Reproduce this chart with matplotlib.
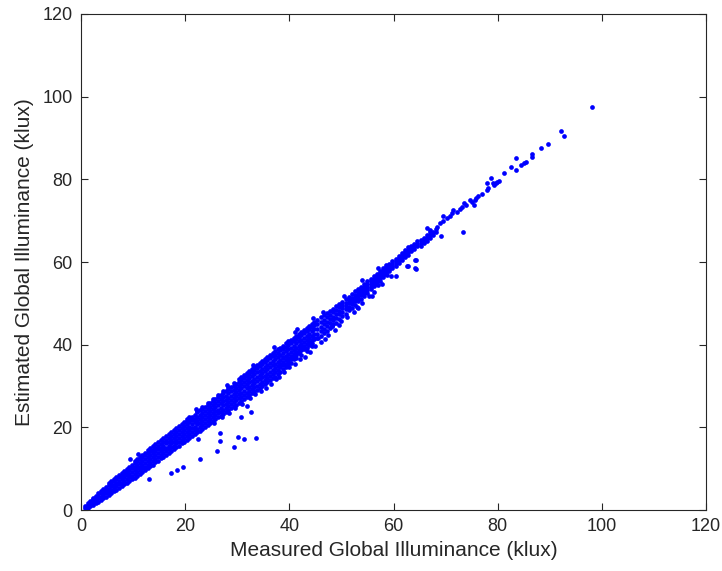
import matplotlib
matplotlib.use("Agg")
import matplotlib.pyplot as plt

# ---- data (klux) ----
# dense band: column x positions and the y values seen in each column
band_a_x = [0.8, 1.3, 1.8, 2.3, 2.8, 3.3, 3.8, 4.3, 4.8, 5.3, 5.8, 6.3, 6.8, 7.3, 7.8,
            8.3, 8.8, 9.3, 9.8, 10.3, 10.8, 11.3, 11.8, 12.3, 12.8, 13.3, 13.8, 14.3, 14.8]
band_a_y = [[0.4, 1.0], [0.6, 1.3, 1.8], [0.9, 1.6, 2.3], [1.3, 2.0, 2.7, 3.0],
            [1.7, 2.4, 3.1, 3.5], [2.0, 2.8, 3.5, 4.1], [2.4, 3.2, 4.0, 4.6],
            [2.8, 3.6, 4.4, 5.1], [3.2, 4.0, 4.8, 5.6], [3.6, 4.4, 5.2, 6.0, 6.5],
            [4.0, 4.8, 5.7, 6.5, 7.0], [4.5, 5.3, 6.1, 6.9, 7.5], [4.9, 5.7, 6.6, 7.4, 8.1],
            [5.4, 6.2, 7.0, 7.9, 8.5], [5.8, 6.6, 7.5, 8.3, 9.0], [6.2, 7.1, 7.9, 8.8, 9.5],
            [6.6, 7.5, 8.4, 9.2, 10.0], [7.0, 7.9, 8.8, 9.7, 10.5], [7.4, 8.3, 9.3, 10.2, 11.0],
            [7.8, 8.7, 9.6, 10.5, 11.3, 11.9], [8.3, 9.2, 10.1, 11.0, 11.8, 12.3],
            [8.8, 9.6, 10.5, 11.4, 12.3, 12.9], [9.2, 10.1, 11.0, 11.9, 12.8, 13.3],
            [9.7, 10.5, 11.4, 12.3, 13.2, 13.9], [10.1, 11.0, 11.9, 12.8, 13.7, 14.4],
            [10.6, 11.4, 12.3, 13.3, 14.2, 14.9], [11.0, 11.9, 12.8, 13.7, 14.6, 15.4],
            [11.5, 12.4, 13.3, 14.2, 15.1, 15.9], [11.9, 12.8, 13.7, 14.7, 15.6, 16.4]]

band_b_x = [15.3, 15.8, 16.3, 16.8, 17.3, 17.8, 18.3, 18.8, 19.3, 19.8, 20.3, 20.8, 21.3, 21.8,
            22.3, 22.8, 23.3, 23.8, 24.3, 24.8, 25.3, 25.8, 26.3, 26.8, 27.3, 27.8, 28.3, 28.8,
            29.3, 29.8]
band_b_y = [[12.5, 13.3, 14.2, 15.1, 16.0, 16.9], [12.9, 13.8, 14.7, 15.6, 16.5, 17.4],
            [13.4, 14.2, 15.1, 16.1, 17.0, 17.9], [13.8, 14.7, 15.6, 16.5, 17.5, 18.4],
            [14.3, 15.2, 16.1, 17.0, 17.9, 18.9], [14.7, 15.6, 16.5, 17.5, 18.4, 19.4],
            [15.2, 16.1, 17.0, 17.9, 18.9, 19.9], [15.6, 16.5, 17.5, 18.4, 19.3, 20.3],
            [16.1, 17.0, 17.9, 18.9, 19.8, 20.8], [16.5, 17.4, 18.4, 19.3, 20.3, 21.3],
            [17.0, 17.9, 18.9, 19.8, 20.7, 21.6, 22.1], [17.4, 18.4, 19.3, 20.2, 21.2, 22.1, 22.6],
            [17.9, 18.8, 19.8, 20.7, 21.7, 22.6], [18.3, 19.3, 20.2, 21.2, 22.1, 23.1],
            [18.8, 19.7, 20.7, 21.6, 22.6, 23.6, 24.0], [19.2, 20.2, 21.1, 22.1, 23.1, 24.1],
            [19.7, 20.6, 21.6, 22.6, 23.5, 24.5, 25.0], [20.1, 21.1, 22.0, 23.0, 24.0, 25.0],
            [20.6, 21.5, 22.5, 23.5, 24.5, 25.5, 26.0], [21.0, 22.0, 23.0, 24.0, 24.9, 25.9],
            [21.5, 22.5, 23.4, 24.4, 25.4, 26.4, 26.9], [21.9, 22.9, 23.9, 24.9, 25.9, 26.9],
            [22.4, 23.4, 24.3, 25.3, 26.3, 27.3, 27.9], [22.8, 23.8, 24.8, 25.8, 26.8, 27.8],
            [23.3, 24.3, 25.3, 26.3, 27.3, 28.3, 28.8], [23.7, 24.7, 25.7, 26.7, 27.7, 28.8],
            [24.2, 25.2, 26.2, 27.2, 28.2, 29.2, 29.8], [24.6, 25.6, 26.6, 27.7, 28.7, 29.7],
            [25.1, 26.1, 27.1, 28.1, 29.1, 30.1, 30.8], [25.5, 26.5, 27.6, 28.6, 29.6, 30.6]]

band_c_x = [30.3, 30.8, 31.3, 31.8, 32.3, 32.8, 33.3, 33.8, 34.3, 34.8, 35.3, 35.8, 36.3, 36.8,
            37.3, 37.8, 38.3, 38.8, 39.3, 39.8, 40.3, 40.8, 41.3, 41.8, 42.3, 42.8, 43.3, 43.8,
            44.3, 44.8]
band_c_y = [[26.0, 27.0, 28.0, 29.0, 30.0, 31.0, 31.8], [26.4, 27.4, 28.4, 29.5, 30.5, 31.5, 32.2],
            [26.9, 27.9, 28.9, 29.9, 31.0, 32.0, 32.7], [27.3, 28.3, 29.4, 30.4, 31.4, 32.5, 33.1],
            [27.8, 28.8, 29.8, 30.9, 31.9, 32.9, 33.6], [28.2, 29.2, 30.3, 31.3, 32.4, 33.4, 34.1],
            [28.7, 29.7, 30.7, 31.8, 32.8, 33.9, 34.6], [29.1, 30.1, 31.2, 32.2, 33.3, 34.3, 35.0],
            [29.6, 30.6, 31.6, 32.7, 33.7, 34.8, 35.5], [30.0, 31.0, 32.1, 33.1, 34.2, 35.3, 36.0],
            [30.5, 31.5, 32.5, 33.6, 34.7, 35.7, 36.5], [30.9, 31.9, 33.0, 34.0, 35.1, 36.2, 37.0],
            [31.4, 32.4, 33.4, 34.5, 35.6, 36.7, 37.4], [32.0, 32.8, 33.9, 35.0, 36.1, 37.2, 37.9],
            [32.3, 33.5, 34.4, 35.4, 36.5, 37.6, 38.4], [33.0, 33.9, 34.8, 35.9, 37.0, 38.1, 38.9],
            [33.4, 34.5, 35.3, 36.4, 37.5, 38.6, 39.3], [34.2, 35.0, 35.8, 36.8, 37.9, 39.0, 39.8],
            [34.5, 35.4, 36.3, 37.3, 38.4, 39.5, 40.3], [35.4, 36.0, 36.8, 37.8, 38.9, 40.0, 40.8],
            [35.6, 36.5, 37.3, 38.3, 39.3, 40.4, 41.2], [36.6, 37.0, 37.8, 38.8, 39.8, 40.9, 41.7],
            [36.8, 37.6, 38.3, 39.2, 40.3, 41.4, 42.2], [37.9, 38.2, 38.8, 39.7, 40.8, 41.9, 42.7],
            [37.6, 38.6, 39.2, 40.2, 41.2, 42.3, 43.1], [38.9, 39.3, 39.7, 40.7, 41.7, 42.8, 43.6],
            [38.4, 39.3, 40.2, 41.2, 42.2, 43.3, 44.1], [39.9, 40.6, 41.6, 42.7, 43.8, 44.5],
            [39.6, 40.5, 41.1, 42.1, 43.2, 44.2, 45.0], [41.4, 41.6, 42.6, 43.7, 44.7, 45.5]]

band_d_x = [45.4, 46.0, 46.6, 47.2, 47.8, 48.4, 49.0, 49.6, 50.2, 50.8, 51.4, 52.0, 52.6, 53.2,
            53.8, 54.4, 55.0, 55.6, 56.2, 56.8, 57.4, 58.0, 58.6, 59.2, 59.8, 60.4, 61.0, 61.6,
            62.2, 62.8, 63.4, 64.0, 64.6, 65.2, 65.8, 66.4, 67.0, 67.6, 68.2]
band_d_y = [[41.5, 42.7, 43.9, 44.9, 46.0], [42.0, 43.3, 44.3, 45.5, 46.6],
            [42.9, 43.8, 45.0, 46.0, 47.1], [43.2, 44.6, 45.6, 46.7, 47.6],
            [44.0, 45.2, 46.3, 47.2, 48.1], [44.9, 45.9, 46.8, 47.8, 48.6],
            [45.3, 46.5, 47.5, 48.3, 49.3], [46.2, 47.3, 48.1, 49.0, 49.9],
            [46.9, 47.8, 48.8, 49.6, 50.4], [47.5, 48.6, 49.3, 50.2, 51.0],
            [48.4, 49.2, 50.0, 50.8, 51.6], [48.9, 49.9, 50.6, 51.4, 52.2],
            [49.7, 50.5, 51.3, 52.0, 52.9], [50.6, 51.2, 51.9, 52.7, 53.4],
            [51.1, 51.9, 52.6, 53.3, 54.0], [51.8, 52.6, 53.2, 54.0, 54.6],
            [52.5, 53.3, 53.9, 54.6, 55.3], [53.4, 54.0, 54.6, 55.3, 56.0],
            [54.2, 54.8, 55.3, 55.9, 56.6], [54.7, 55.4, 56.0, 56.7, 57.2],
            [55.4, 56.2, 56.8, 57.3, 57.9], [56.3, 56.9, 57.4, 58.0, 58.6],
            [57.0, 57.6, 58.2, 58.7, 59.3], [57.8, 58.3, 58.9, 59.5], [58.5, 59.0, 59.6, 60.2],
            [59.0, 59.8, 60.3, 60.8], [59.8, 60.4, 60.9, 61.5], [60.4, 61.2, 61.7, 62.2],
            [61.2, 61.8, 62.4, 62.9], [61.7, 62.5, 63.0, 63.6], [62.6, 63.2, 63.8],
            [63.1, 63.8, 64.4], [63.9, 64.4, 65.0], [63.8, 64.6, 65.3], [64.5, 65.2, 65.9],
            [65.1, 65.8, 66.5], [65.9, 66.5, 67.2], [66.6, 67.3], [67.2, 68.0]]

# scattered points along the band edges
edge_x = [25.5, 27.0, 28.5, 29.5, 31.0, 32.5, 33.5, 34.5, 35.5, 36.5, 37.5, 38.0, 39.0, 40.0,
          41.0, 42.0, 43.0, 44.0, 45.0, 46.0, 46.8, 47.5, 48.8, 49.5, 51.0, 52.5, 54.0, 55.8,
          57.8, 59.5, 22.0, 28.0, 33.0, 37.0, 41.5, 44.5, 46.5, 50.5, 54.0, 57.0]
edge_y = [21.0, 22.6, 23.5, 24.6, 25.6, 27.0, 28.0, 28.9, 29.6, 30.6, 31.6, 32.3, 33.4, 34.5,
          35.4, 36.5, 37.0, 38.3, 39.6, 40.6, 41.3, 42.4, 43.5, 44.8, 46.6, 47.8, 50.0, 51.8,
          54.6, 56.5, 24.5, 30.2, 35.0, 39.5, 43.7, 46.5, 48.0, 51.8, 55.6, 58.5]

# upper tail, individual points
tail_x = [66.4, 67.0, 68.3, 68.9, 69.5, 69.5, 70.2, 70.8, 71.2,
          71.5, 72.1, 72.7, 73.1, 73.5, 74.0, 74.7, 75.0, 75.4, 75.6, 75.9, 76.3, 76.9, 77.9,
          78.1, 77.9, 78.8, 79.1, 79.2, 79.6, 79.9, 80.3, 81.2, 82.5, 83.6, 84.4, 85.1, 85.4,
          83.6, 86.5, 86.6, 88.3, 89.6, 92.1, 92.7, 98.1]
tail_y = [68.2, 67.7, 68.5, 69.4, 69.8, 71.1, 70.7, 71.1, 71.8,
          72.6, 72.2, 72.8, 73.4, 74.2, 73.8, 75.0, 74.6, 73.8, 75.0, 75.4, 76.0, 76.5, 79.0,
          77.8, 77.3, 80.3, 79.0, 78.6, 79.0, 79.4, 79.7, 81.5, 83.0, 82.3, 83.4, 83.9, 84.1,
          85.2, 86.1, 85.5, 87.5, 88.6, 91.8, 90.6, 97.6]

# points lying off the main band
out_x = [13.1, 17.2, 18.4, 19.5, 22.5, 22.9, 26.2, 26.6, 26.6, 29.4, 30.1, 30.7, 31.3, 31.9,
         32.6, 33.6, 9.4, 10.9, 38.8, 40.8, 42.0, 45.5, 48.1, 50.0, 52.0, 52.9, 55.3, 56.2,
         57.1, 60.4, 58.8, 62.7, 62.6, 64.2, 64.4, 64.2, 64.4, 69.2, 73.3, 41.1, 48.2, 53.1]
out_y = [7.4, 9.0, 9.6, 10.4, 17.2, 12.3, 14.3, 18.7, 16.7, 15.2, 17.7, 22.6, 17.1, 25.2,
         23.8, 17.5, 12.3, 13.5, 37.1, 37.1, 39.7, 41.6, 44.4, 45.8, 50.4, 49.0, 51.8, 52.7,
         54.4, 56.7, 56.8, 59.1, 59.0, 58.5, 58.4, 60.5, 60.4, 66.3, 67.2, 43.1, 44.4, 48.8]

x_ticks = [0, 20, 40, 60, 80, 100, 120]
y_ticks = [0, 20, 40, 60, 80, 100, 120]
x_label = "Measured Global Illuminance (klux)"
y_label = "Estimated Global Illuminance (klux)"

# ---- assemble ----
all_x, all_y = [], []
for bx, by in [(band_a_x, band_a_y), (band_b_x, band_b_y), (band_c_x, band_c_y), (band_d_x, band_d_y)]:
    for xv, ys in zip(bx, by):
        for yv in ys:
            all_x.append(xv)
            all_y.append(yv)
all_x += edge_x + tail_x + out_x
all_y += edge_y + tail_y + out_y

plt.rcParams['font.family'] = ['Liberation Sans', 'DejaVu Sans']
fig = plt.figure(figsize=(7.22, 5.71), dpi=100)
ax = fig.add_axes([0.1122, 0.1068, 0.8657, 0.8687])

ax.plot(all_x, all_y, 'o', color=(0, 0, 1), ms=3.4, mew=0, linestyle='none')

ax.set_xlim(0, 120)
ax.set_ylim(0, 120)
ax.set_xticks(x_ticks)
ax.set_yticks(y_ticks)
dark = (0.15, 0.15, 0.15)
ax.tick_params(direction='in', length=5, width=0.8, colors=dark, labelsize=13,
               top=True, right=True, pad=6)
for s in ax.spines.values():
    s.set_color(dark)
    s.set_linewidth(0.8)
ax.set_xlabel(x_label, fontsize=15, color=dark, labelpad=4)
ax.set_ylabel(y_label, fontsize=15, color=dark, labelpad=6)

fig.savefig("out.png", dpi=100)
